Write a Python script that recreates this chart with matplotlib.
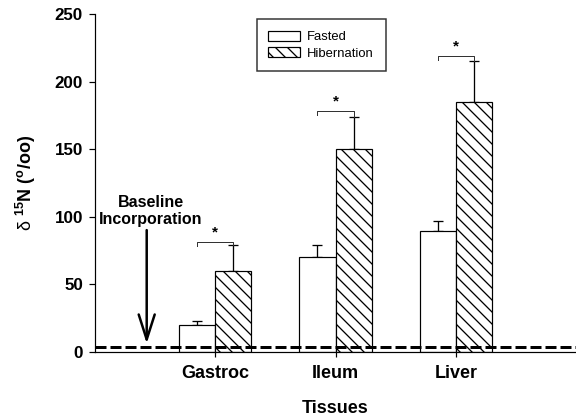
import numpy as np
import matplotlib
matplotlib.use("Agg")
import matplotlib.pyplot as plt

plt.rcParams['font.family'] = ['Liberation Sans', 'DejaVu Sans']
plt.rcParams['mathtext.fontset'] = 'custom'
plt.rcParams['mathtext.rm'] = 'Liberation Sans'
plt.rcParams['mathtext.bf'] = 'Liberation Sans:bold'
plt.rcParams['mathtext.it'] = 'Liberation Sans:italic'
plt.rcParams['hatch.linewidth'] = 1.3

# ---- data ----
tissues = ['Gastroc', 'Ileum', 'Liver']
fasted = [20, 70, 89]
fasted_err = [3, 9, 8]
hibernation = [60, 150, 185]
hibernation_err = [19, 24, 30]
bracket_y = [81, 178, 219]
baseline = 3.7
arrow_top = 90
arrow_tip = 6

fig = plt.figure(figsize=(576/72, 419/72), dpi=72)
ax = fig.add_axes([95/576, 1-351.7/419, 481/576, 337.7/419])

x = np.arange(1, len(tissues) + 1)
w = 0.3
ax.bar(x - w/2, fasted, w, color='white', edgecolor='black', linewidth=1.2,
       label='Fasted', zorder=2)
ax.bar(x + w/2, hibernation, w, color='white', edgecolor='black', linewidth=1.2,
       hatch='\\\\', label='Hibernation', zorder=2)
# upper-only error bars
ax.errorbar(x - w/2, fasted, yerr=[np.zeros(len(x)), fasted_err], fmt='none',
            ecolor='black', elinewidth=1.3, capsize=5, capthick=1.3, zorder=1)
ax.errorbar(x + w/2, hibernation, yerr=[np.zeros(len(x)), hibernation_err], fmt='none',
            ecolor='black', elinewidth=1.3, capsize=5, capthick=1.3, zorder=1)

# significance brackets
for xi, b, h, he in zip(x, bracket_y, hibernation, hibernation_err):
    ax.plot([xi - w/2, xi - w/2, xi + w/2, xi + w/2],
            [b - 3, b, b, h + he], color='#333333', lw=1.0, zorder=3)
    ax.text(xi, b + 7, '*', ha='center', va='center', fontsize=15,
            fontweight='bold')

# dashed baseline
ax.axhline(baseline, color='black', lw=3, linestyle=(0, (11/3, 4/3)), zorder=4)

# annotation arrow
ax.annotate('', xy=(0.43, arrow_tip), xytext=(0.43, arrow_top),
            arrowprops=dict(arrowstyle='->,head_length=1.25,head_width=0.4',
                            lw=2.5, color='black', shrinkA=0, shrinkB=0,
                            mutation_scale=20))
ax.text(0.466, 104, 'Baseline\nIncorporation', ha='center', va='center',
        fontsize=16, fontweight='bold', multialignment='center', linespacing=1.15)

ax.set_xlim(0, 4)
ax.set_ylim(0, 250)
ax.set_xticks(x)
ax.set_xticklabels(tissues, fontsize=18, fontweight='bold')
ax.set_yticks([0, 50, 100, 150, 200, 250])
ax.set_yticklabels(['0', '50', '100', '150', '200', '250'], fontsize=17,
                   fontweight='bold')
ax.tick_params(axis='x', length=5, width=1.2, pad=8)
ax.tick_params(axis='y', length=6, width=1.2, pad=6)
for s in ['top', 'right']:
    ax.spines[s].set_visible(False)
for s in ['left', 'bottom']:
    ax.spines[s].set_linewidth(1.2)

ax.set_xlabel('Tissues', fontsize=18, fontweight='bold', labelpad=18)
ax.set_ylabel(r'δ $^{\mathbf{15}}\mathbf{N}\ \mathbf{(^{o}/oo)}$', fontsize=18)
ax.yaxis.set_label_coords(-0.118, 0.5)

leg = ax.legend(loc='upper left', bbox_to_anchor=(0.336, 0.984), borderaxespad=0,
                fontsize=13, frameon=True, fancybox=False, edgecolor='black',
                handlelength=2.4, handleheight=0.75, handletextpad=0.6,
                labelspacing=0.3, borderpad=0.9)
leg.get_frame().set_linewidth(1.5)

fig.savefig('out.png', dpi=72)
